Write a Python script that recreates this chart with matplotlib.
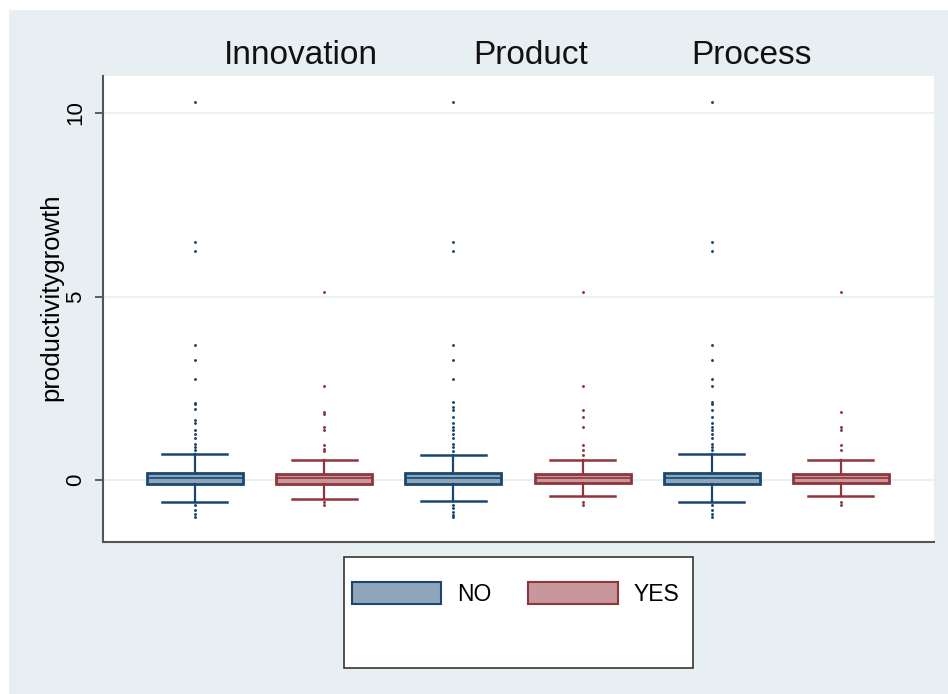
import matplotlib
matplotlib.use("Agg")
import matplotlib.pyplot as plt
from matplotlib.patches import Rectangle, Patch

# ---- data ----
groups = ["Innovation", "Product", "Process"]
series = ["NO", "YES"]
q1 = [-0.09, -0.09, -0.09, -0.07, -0.09, -0.07]
med = [0.06, 0.05, 0.06, 0.05, 0.06, 0.05]
q3 = [0.21, 0.16, 0.21, 0.17, 0.21, 0.16]
whislo = [-0.60, -0.50, -0.56, -0.44, -0.60, -0.44]
whishi = [0.71, 0.56, 0.68, 0.56, 0.71, 0.56]
fliers = [
    [10.3, 6.49, 6.25, 3.69, 3.26, 2.75, 2.11, 2.07, 1.93, 1.63, 1.55, 1.36,
     1.27, 1.14, 1.0, 0.9, 0.82, -0.68, -0.82, -0.92, -1.0],
    [5.12, 2.57, 1.87, 1.80, 1.45, 1.36, 0.95, 0.86, 0.80, -0.59, -0.68],
    [10.3, 6.49, 6.25, 3.69, 3.26, 2.75, 2.13, 2.0, 1.9, 1.72, 1.55, 1.45,
     1.36, 1.27, 1.14, 1.0, 0.9, 0.8, -0.66, -0.75, -0.86, -0.95, -1.0],
    [5.12, 2.57, 1.9, 1.72, 1.45, 0.95, 0.82, 0.69, -0.59, -0.68],
    [10.3, 6.49, 6.25, 3.69, 3.26, 2.75, 2.57, 2.13, 2.07, 1.9, 1.72, 1.55,
     1.45, 1.36, 1.27, 1.14, 1.0, 0.9, 0.82, -0.68, -0.82, -0.92, -1.0],
    [5.12, 1.86, 1.45, 1.36, 0.95, 0.82, -0.59, -0.68],
]
yticks = [0, 5, 10]
ylabel = "productivitygrowth"

# ---- style ----
edge_col = {"NO": "#1A476F", "YES": "#90353B"}
fill_col = {"NO": "#8FA5BA", "YES": "#C8979B"}
bg = "#E8EFF2"
font = ["Liberation Sans", "DejaVu Sans"]

W, H = 948, 694
fig = plt.figure(figsize=(W / 100, H / 100), dpi=100, facecolor="white")
fig.patches.append(Rectangle((9 / W, 0), 1, (H - 10) / H, transform=fig.transFigure,
                             facecolor=bg, edgecolor="none", zorder=-10))

ax = fig.add_axes([103 / W, (H - 542) / H, (934 - 103) / W, (542 - 76) / H])
ax.set_facecolor("white")

for i in range(6):
    s = series[i % 2]
    stats = [dict(med=med[i], q1=q1[i], q3=q3[i], whislo=whislo[i], whishi=whishi[i],
                  fliers=fliers[i])]
    ec = edge_col[s]
    ax.bxp(stats, positions=[i + 1], widths=0.743, capwidths=0.503, patch_artist=True,
           manage_ticks=False,
           boxprops=dict(facecolor=fill_col[s], edgecolor=ec, linewidth=2.0),
           medianprops=dict(color=ec, linewidth=1.2),
           whiskerprops=dict(color=ec, linewidth=1.6),
           capprops=dict(color=ec, linewidth=1.8),
           flierprops=dict(marker="o", markersize=1.1, markerfacecolor=ec,
                           markeredgecolor=ec, linestyle="none"))

ax.set_xlim(0.288, 6.72)
ax.set_ylim(-1.68, 11.0)
ax.set_xticks([])
ax.set_yticks(yticks)
ax.set_yticklabels([str(t) for t in yticks], rotation=90, va="center",
                   fontsize=16, family=font)
ax.tick_params(axis="y", direction="out", length=6, width=1.2, color="#444", pad=6)
for t in yticks:
    ax.axhline(t, color="#E6EFF2", lw=1.2, zorder=0)
for side in ["top", "right"]:
    ax.spines[side].set_visible(False)
for side in ["left", "bottom"]:
    ax.spines[side].set_color("#555555")
    ax.spines[side].set_linewidth(1.5)
ax.set_ylabel(ylabel, fontsize=18.5, family=font, va="center")
ax.yaxis.set_label_coords(-0.062, 0.526)

# group titles
for g, xp in zip(groups, [301, 531, 752]):
    fig.text(xp / W, 1 - 55 / H, g, ha="center", va="center", fontsize=24,
             family=font, color="#111111")

# legend box
fig.patches.append(Rectangle((344 / W, (H - 668) / H), 349 / W, 111 / H,
                             transform=fig.transFigure, facecolor="white",
                             edgecolor="#333333", lw=1.2, zorder=1))
handles = [Patch(facecolor=fill_col[s], edgecolor=edge_col[s], lw=1.5) for s in series]
leg = fig.legend(handles, series, loc="upper left",
                 bbox_to_anchor=(352 / W, 1 - 582 / H), ncol=2, frameon=False,
                 prop=dict(family=font, size=16.5), handlelength=3.9,
                 handleheight=1.1, handletextpad=0.7, columnspacing=1.6,
                 borderpad=0, borderaxespad=0)
leg.set_zorder(2)

fig.savefig("out.png", dpi=100, facecolor="white")
